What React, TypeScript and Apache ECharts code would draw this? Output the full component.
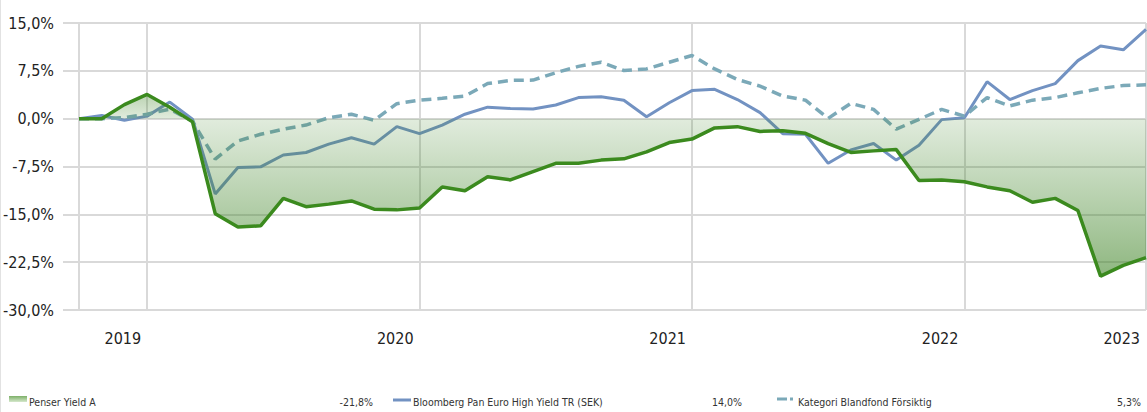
import React, { useEffect, useRef } from "react";
import * as echarts from "echarts";

// ---- data ----
const periods: string[] = [
  "P01","P02","P03","P04","P05","P06","P07","P08","P09","P10","P11","P12",
  "P13","P14","P15","P16","P17","P18","P19","P20","P21","P22","P23","P24",
  "P25","P26","P27","P28","P29","P30","P31","P32","P33","P34","P35","P36",
  "P37","P38","P39","P40","P41","P42","P43","P44","P45","P46","P47","P48",
];
const yearLabels = ["2019", "2020", "2021", "2022", "2023"];
const yearIndex = [3, 15, 27, 39, 47];

const penser = [
  0, 0, 2.2, 3.8, 1.8, -0.5, -14.9, -17.0, -16.8, -12.5, -13.8, -13.4, -12.9, -14.2, -14.3, -14.0,
  -10.7, -11.3, -9.1, -9.6, -8.3, -7.0, -7.0, -6.5, -6.3, -5.2, -3.75, -3.2, -1.45, -1.25, -2.0, -1.9,
  -2.3, -3.9, -5.3, -5.05, -4.85, -9.7, -9.6, -9.9, -10.7, -11.3, -13.1, -12.5, -14.4, -24.7, -23.0, -21.8,
];
const bloomberg = [
  0, 0.5, -0.25, 0.4, 2.6, -0.1, -11.8, -7.65, -7.55, -5.7, -5.3, -4.0, -3.0, -4.0, -1.25, -2.35,
  -1.0, 0.7, 1.8, 1.6, 1.5, 2.15, 3.3, 3.45, 2.9, 0.3, 2.5, 4.4, 4.6, 3.0, 0.95, -2.35,
  -2.45, -7.0, -4.9, -3.9, -6.5, -4.15, -0.15, 0.15, 5.8, 3.0, 4.4, 5.5, 9.1, 11.4, 10.8, 14.0,
];
const kategori = [
  0, 0, 0.15, 0.7, 1.5, -0.4, -6.35, -3.5, -2.45, -1.65, -1.0, 0.15, 0.7, -0.25, 2.35, 2.9,
  3.2, 3.55, 5.5, 6.0, 6.05, 7.2, 8.2, 8.85, 7.55, 7.8, 8.85, 9.9, 7.8, 6.15, 5.1, 3.55,
  2.9, 0.05, 2.4, 1.45, -1.65, -0.1, 1.45, 0.4, 3.3, 2.0, 2.9, 3.3, 4.05, 4.75, 5.2, 5.3,
];
const seriesNames = ["Penser Yield A", "Bloomberg Pan Euro High Yield TR (SEK)", "Kategori Blandfond Försiktig"];

const FONT = "'DejaVu Sans Condensed', 'Liberation Sans Narrow', sans-serif";
const GREEN = "#3b8a1e";
const BLUE = "#7292c2";
const TEAL = "#7ba9b8";
const GRID = "#d9d9d9";
const LEG_FONT = `10.5px ${FONT}`;

const fmtPct = (v: number) => v.toFixed(1).replace(".", ",") + "%";

export default function App() {
  const ref = useRef<HTMLDivElement>(null);
  useEffect(() => {
    if (!ref.current) return;
    const chart = echarts.init(ref.current, undefined, { renderer: "svg" });
    const pMax = Math.max(0, ...penser);
    const pMin = Math.min(0, ...penser);
    const zeroT = pMax / (pMax - pMin);
    const isYear = (i: number) => i === 0 || yearIndex.indexOf(i) >= 0;

    const legendY = 402;
    const legend: any[] = [
      { type: "rect", shape: { x: 0, y: 0, width: 1, height: 412 }, style: { fill: "#e2e2e2" } },
      {
        type: "rect",
        shape: { x: 9, y: 396, width: 18, height: 6 },
        style: {
          fill: new echarts.graphic.LinearGradient(0, 0, 0, 1, [
            { offset: 0, color: "#7db068" },
            { offset: 1, color: "#d5e8cc" },
          ]),
        },
      },
      { type: "text", x: 29, y: legendY, style: { text: seriesNames[0], font: LEG_FONT, fill: "#333", verticalAlign: "middle" } },
      { type: "text", x: 373, y: legendY, style: { text: fmtPct(penser[penser.length - 1]), font: LEG_FONT, fill: "#333", align: "right", verticalAlign: "middle" } },
      { type: "rect", shape: { x: 393, y: 398.5, width: 18, height: 3 }, style: { fill: BLUE } },
      { type: "text", x: 413, y: legendY, style: { text: seriesNames[1], font: LEG_FONT, fill: "#333", verticalAlign: "middle" } },
      { type: "text", x: 742, y: legendY, style: { text: fmtPct(bloomberg[bloomberg.length - 1]), font: LEG_FONT, fill: "#333", align: "right", verticalAlign: "middle" } },
      { type: "rect", shape: { x: 777, y: 397.5, width: 10, height: 3 }, style: { fill: TEAL } },
      { type: "rect", shape: { x: 790, y: 397.5, width: 3, height: 3 }, style: { fill: TEAL } },
      { type: "text", x: 798, y: legendY, style: { text: seriesNames[2], font: LEG_FONT, fill: "#333", verticalAlign: "middle" } },
      { type: "text", x: 1141, y: legendY, style: { text: fmtPct(kategori[kategori.length - 1]), font: LEG_FONT, fill: "#333", align: "right", verticalAlign: "middle" } },
    ];

    chart.setOption({
      animation: false,
      grid: { left: 79, right: 1, top: 23, bottom: 102, containLabel: false, outerBoundsMode: "none" },
      xAxis: {
        type: "category",
        data: periods,
        boundaryGap: false,
        axisLine: { show: false },
        axisTick: { show: true, interval: (i: number) => isYear(i), length: 13, lineStyle: { color: GRID, width: 2 } },
        splitLine: { show: true, interval: (i: number) => isYear(i), lineStyle: { color: GRID, width: 2 } },
        axisLabel: {
          interval: (i: number) => yearIndex.indexOf(i) >= 0,
          formatter: (_v: string, i: number) => {
            const k = yearIndex.indexOf(i);
            return k >= 0 ? yearLabels[k] : "";
          },
          align: "right",
          padding: [0, 6, 0, 0],
          margin: 20,
          fontFamily: FONT,
          fontSize: 16,
          color: "#222",
        },
      },
      yAxis: {
        type: "value",
        min: -30,
        max: 15,
        interval: 7.5,
        axisLine: { show: false },
        axisTick: { show: true, length: 16, lineStyle: { color: GRID, width: 2 } },
        splitLine: { show: true, lineStyle: { color: GRID, width: 2 } },
        axisLabel: { formatter: (v: number) => fmtPct(v), margin: 25, fontFamily: FONT, fontSize: 16, color: "#222" },
      },
      series: [
        {
          name: seriesNames[1],
          type: "line",
          data: bloomberg,
          symbol: "none",
          z: 2,
          lineStyle: { color: BLUE, width: 3 },
        },
        {
          name: seriesNames[2],
          type: "line",
          data: kategori,
          symbol: "none",
          z: 2,
          lineStyle: { color: TEAL, width: 3.5, type: [10, 6] },
        },
        {
          name: seriesNames[0] + " area",
          type: "line",
          data: penser,
          symbol: "none",
          z: 3,
          silent: true,
          lineStyle: { width: 0, opacity: 0 },
          areaStyle: {
            origin: "auto",
            color: new echarts.graphic.LinearGradient(0, 0, 0, 1, [
              { offset: 0, color: "rgba(60,130,35,0.5)" },
              { offset: zeroT, color: "rgba(60,130,35,0.22)" },
              { offset: 1, color: "rgba(60,130,35,0.82)" },
            ]),
          },
        },
        {
          name: seriesNames[0],
          type: "line",
          data: penser,
          symbol: "none",
          z: 4,
          lineStyle: { color: GREEN, width: 3.5 },
        },
      ],
      graphic: legend,
    });
    return () => chart.dispose();
  }, []);
  return <div ref={ref} style={{ position: "fixed", left: 0, top: 0, width: 1147, height: 412, background: "#fff" }} />;
}
